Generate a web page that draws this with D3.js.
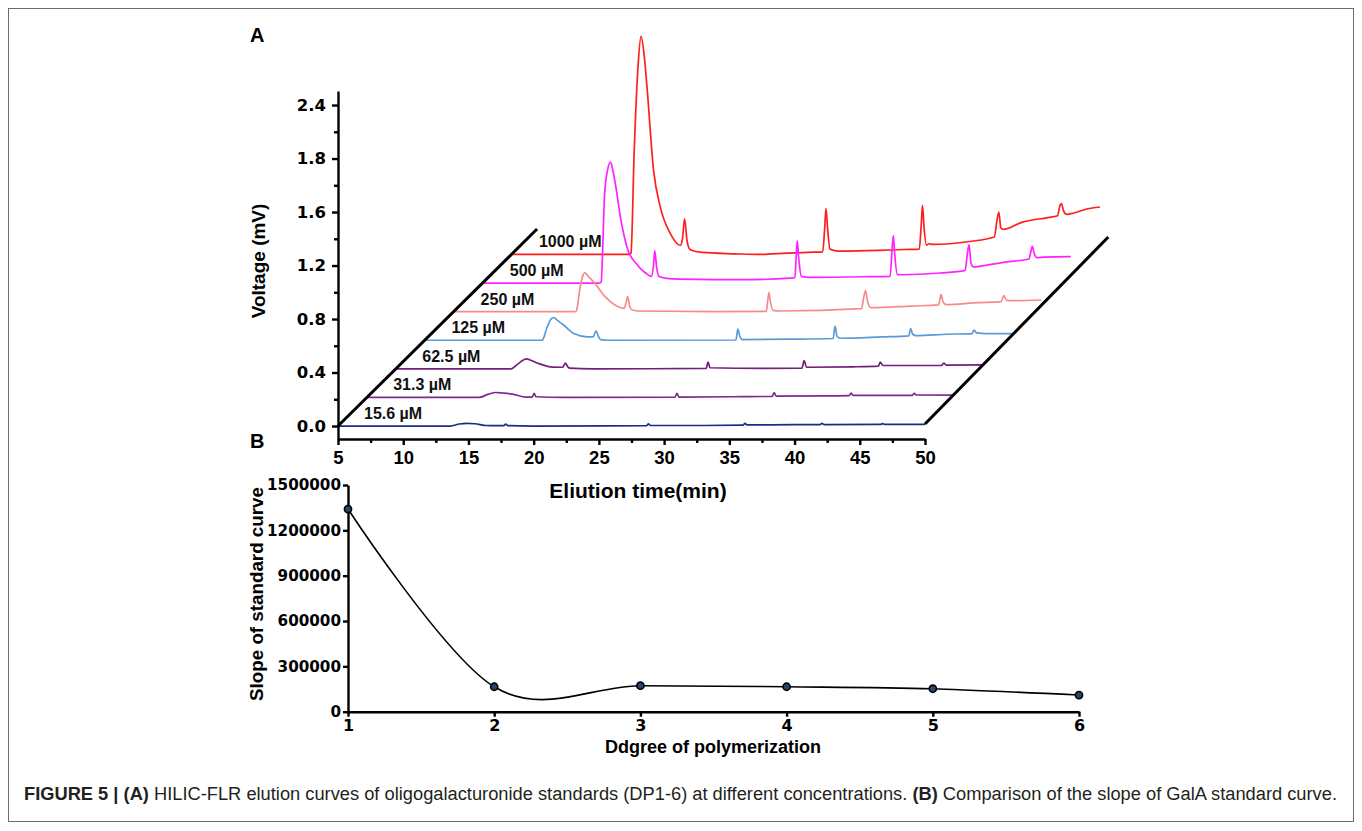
<!DOCTYPE html>
<html>
<head>
<meta charset="utf-8">
<script src="https://cdn.jsdelivr.net/npm/d3@7/dist/d3.min.js"></script>
<style>
  body { margin: 0; background: #fff; }
</style>
</head>
<body>
<div id="chart"></div>
<script>
// ---- data ----
// panel A: HILIC-FLR elution curves, [time (min), signal above the trace's own baseline (mV)]
var concLabels = ["15.6 µM", "31.3 µM", "62.5 µM", "125 µM", "250 µM", "500 µM", "1000 µM"];

var trace156 = [[5,0],[13.6,0],[14.3,0.015],[14.87,0.02],[15.5,0.017],[16.4,0.004],[17.7,0.003],[17.86,0.015],[18.0,0.003],[20,0],
  [28.65,0.002],[28.8,0.016],[28.95,0.004],[33,0.004],[36.05,0.006],[36.2,0.02],[36.35,0.008],[40,0.01],[41.95,0.01],[42.1,0.02],
  [42.25,0.011],[46.6,0.012],[46.75,0.018],[46.9,0.013],[50,0.013]];
var trace313 = [[5,0],[13.6,0],[14.3,0.025],[14.87,0.037],[15.4,0.033],[16.14,0.025],[17.17,0.003],[17.65,0.003],[17.8,0.03],[17.95,0.005],
  [20,0],[28.6,0.002],[28.75,0.03],[28.9,0.003],[33,0.005],[36.05,0.008],[36.2,0.037],[36.35,0.01],[40,0.012],[41.95,0.014],
  [42.1,0.032],[42.25,0.016],[46.8,0.016],[46.95,0.03],[47.1,0.018],[50,0.017]];
var trace625 = [[5,0],[13.8,0],[14.3,0.035],[14.97,0.075],[15.4,0.06],[15.99,0.037],[17.0,0.013],[17.75,0.012],[17.96,0.043],[18.15,0.015],
  [18.3,0.005],[20,0],[28.75,0.003],[28.9,0.05],[29.05,0.008],[33,0.004],[36.1,0.006],[36.26,0.062],[36.45,0.012],[40,0.015],
  [41.95,0.02],[42.1,0.05],[42.3,0.025],[46.8,0.025],[46.97,0.043],[47.15,0.028],[50,0.03]];
var trace125 = [[5,0],[13.9,0],[14.0,0.005],[14.3,0.09],[14.6,0.155],[14.84,0.17],[15.1,0.15],[15.61,0.112],[16.38,0.05],[17.4,0.025],
  [17.85,0.025],[18.0,0.055],[18.09,0.07],[18.25,0.03],[18.42,0.005],[19,0],[28.8,0.002],[28.95,0.083],[29.1,0.03],[29.3,0.005],
  [33,0.008],[36.25,0.013],[36.4,0.105],[36.55,0.03],[36.8,0.015],[40,0.025],[42.05,0.033],[42.2,0.088],[42.35,0.045],[42.6,0.035],
  [45,0.045],[46.9,0.05],[47.05,0.075],[47.25,0.055],[48,0.05],[50,0.05]];
var trace250 = [[5,0],[14.25,0],[14.35,0.01],[14.6,0.17],[14.8,0.26],[14.99,0.29],[15.2,0.27],[15.76,0.21],[16.53,0.112],[17.29,0.05],
  [18.0,0.025],[18.15,0.07],[18.27,0.112],[18.4,0.05],[18.55,0.017],[19,0.005],[25,0],[28.9,0.002],[29.0,0.08],[29.1,0.142],
  [29.2,0.08],[29.4,0.01],[30,0.005],[36.2,0.022],[36.35,0.1],[36.5,0.157],[36.65,0.08],[36.9,0.03],[40,0.042],[42.1,0.05],
  [42.2,0.09],[42.3,0.129],[42.45,0.07],[42.7,0.052],[45,0.067],[46.9,0.075],[47.1,0.12],[47.3,0.085],[48,0.082],[50,0.087]];
var trace500 = [[5,0],[13.9,0],[14.0,0.01],[14.26,0.66],[14.5,0.85],[14.72,0.905],[14.9,0.84],[15.1,0.735],[15.49,0.486],[16.0,0.262],
  [16.76,0.137],[17.4,0.075],[17.85,0.05],[18.0,0.12],[18.11,0.24],[18.25,0.12],[18.42,0.05],[19,0.035],[20,0.03],[25,0.025],
  [28.5,0.037],[28.85,0.04],[28.95,0.2],[29.03,0.316],[29.15,0.18],[29.35,0.05],[30,0.042],[34,0.047],[36.15,0.05],[36.3,0.25],
  [36.4,0.354],[36.5,0.22],[36.7,0.065],[37,0.062],[40,0.075],[41.9,0.095],[42.05,0.2],[42.2,0.287],[42.35,0.15],[42.55,0.12],
  [43,0.125],[45,0.157],[46.8,0.18],[46.95,0.24],[47.05,0.274],[47.2,0.22],[47.4,0.19],[48,0.194],[50,0.197]];
var trace1000 = [[5,0],[13.95,0],[14.05,0.01],[14.3,0.78],[14.6,1.42],[14.82,1.63],[15.05,1.5],[15.28,1.25],[15.78,0.63],[16.3,0.354],
  [17.06,0.157],[17.83,0.067],[18.0,0.12],[18.16,0.267],[18.35,0.1],[18.6,0.035],[19.5,0.015],[22,0.005],[24,0],[26,0.01],
  [28,0.017],[28.75,0.02],[28.9,0.2],[29.0,0.342],[29.12,0.2],[29.3,0.04],[30,0.025],[33,0.03],[35,0.037],[36.15,0.04],
  [36.3,0.22],[36.4,0.367],[36.52,0.2],[36.7,0.07],[36.9,0.08],[37.2,0.075],[40,0.097],[41.9,0.13],[42.1,0.25],[42.25,0.317],
  [42.4,0.2],[42.6,0.187],[44,0.24],[46,0.276],[46.75,0.29],[46.95,0.37],[47.05,0.381],[47.2,0.33],[47.45,0.3],[48,0.31],
  [49,0.34],[50,0.355]];

var traces = [trace156, trace313, trace625, trace125, trace250, trace500, trace1000];
var traceColors = ["#1f2a86", "#7b2c8c", "#72207a", "#5b9bd5", "#f78a8a", "#ff22ff", "#ff1e1e"];

var xTicksA = [5, 10, 15, 20, 25, 30, 35, 40, 45, 50];
var yTickValsA = [0, 0.4, 0.8, 1.2, 1.6, 2.0, 2.4];
var yTickLabelsA = ["0.0", "0.4", "0.8", "1.2", "1.6", "1.8", "2.4"];

// panel B: slope of GalA standard curve per degree of polymerization
var dpValues = [1, 2, 3, 4, 5, 6];
var slopeValues = [1341000, 165000, 172000, 165000, 152000, 110000];
var yTicksB = [0, 300000, 600000, 900000, 1200000, 1500000];

// waterfall step between successive traces (min, mV)
var stepT = 2.235, stepV = 0.2138;

var width = 1362, height = 831;
var arial = "'Liberation Sans', Arial, sans-serif";
var wide = "'DejaVu Sans', Verdana, sans-serif";

var svg = d3.select("#chart").append("svg")
    .attr("width", width)
    .attr("height", height)
    .attr("font-family", arial);

svg.append("rect").attr("x", 0).attr("y", 0).attr("width", width).attr("height", height).attr("fill", "#fff");
// figure frame
svg.append("rect")
    .attr("x", 8.5).attr("y", 8.5).attr("width", 1345).attr("height", 813)
    .attr("fill", "none").attr("stroke", "#6d6d6d").attr("stroke-width", 1);

// ================= panel A =================
var xA = d3.scaleLinear().domain([5, 50]).range([338, 925]);
var yA = d3.scaleLinear().domain([-0.097, 2.505]).range([439, 91]);

var line = d3.line().curve(d3.curveMonotoneX);

// back to front: highest concentration first
for (var i = traces.length - 1; i >= 0; i--) {
  var k = i;
  line.x(function(d) { return xA(d[0] + k * stepT); })
      .y(function(d) { return yA(d[1] + k * stepV); });
  svg.append("path")
      .attr("d", line(traces[i]))
      .attr("fill", "none")
      .attr("stroke", traceColors[i])
      .attr("stroke-width", 1.7)
      .attr("stroke-linejoin", "round");
}

// concentration labels, sitting above each trace's start
concLabels.forEach(function(lab, i) {
  svg.append("text")
      .attr("x", xA(5 + i * stepT) + 26)
      .attr("y", yA(i * stepV) - 7)
      .attr("font-size", 16)
      .attr("font-weight", "bold")
      .attr("fill", "#111")
      .text(lab);
});

// the two diagonals of the waterfall floor
var diag = [[[5, 0], [20.26, 1.473]], [[50, 0.015], [64.05, 1.413]]];
diag.forEach(function(seg) {
  svg.append("line")
      .attr("x1", xA(seg[0][0])).attr("y1", yA(seg[0][1]))
      .attr("x2", xA(seg[1][0])).attr("y2", yA(seg[1][1]))
      .attr("stroke", "#000").attr("stroke-width", 3);
});

function styleAxis(g, size, family) {
  g.attr("font-family", null).attr("font-size", null);
  g.selectAll("path, line").attr("stroke", "#000").attr("stroke-width", 2.4);
  g.selectAll("text")
      .attr("font-size", size)
      .attr("font-weight", "bold")
      .attr("fill", "#000")
      .attr("font-family", family);
}

// y axis A
var gyA = svg.append("g").attr("transform", "translate(338,0)");
gyA.call(d3.axisLeft(yA).tickValues(yTickValsA)
    .tickFormat(function(d, i) { return yTickLabelsA[i]; })
    .tickSize(6).tickSizeOuter(0).tickPadding(6));
styleAxis(gyA, 16.5, wide);
var gyAm = svg.append("g").attr("transform", "translate(338,0)");
gyAm.call(d3.axisLeft(yA).tickValues(d3.range(0.2, 2.4, 0.4)).tickFormat("").tickSize(4).tickSizeOuter(0));
gyAm.select(".domain").remove();
styleAxis(gyAm, 16, wide);

// x axis A
var gxA = svg.append("g").attr("transform", "translate(0,439)");
gxA.call(d3.axisBottom(xA).tickValues(xTicksA).tickSize(6).tickSizeOuter(0).tickPadding(6));
styleAxis(gxA, 18.5, arial);
var gxAm = svg.append("g").attr("transform", "translate(0,439)");
gxAm.call(d3.axisBottom(xA).tickValues(d3.range(7.5, 50, 5)).tickFormat("").tickSize(4).tickSizeOuter(0));
gxAm.select(".domain").remove();
styleAxis(gxAm, 18, arial);

svg.append("text")
    .attr("x", 638).attr("y", 498)
    .attr("text-anchor", "middle")
    .attr("font-size", 21).attr("font-weight", "bold")
    .text("Eliution time(min)");

svg.append("text")
    .attr("transform", "translate(265,261) rotate(-90)")
    .attr("text-anchor", "middle")
    .attr("font-size", 19).attr("font-weight", "bold")
    .text("Voltage (mV)");

svg.append("text").attr("x", 250).attr("y", 42)
    .attr("font-size", 20).attr("font-weight", "bold").text("A");

// ================= panel B =================
var xB = d3.scaleLinear().domain([1, 6]).range([348, 1079]);
var yB = d3.scaleLinear().domain([0, 1500000]).range([711.7, 485]);

svg.append("text").attr("x", 250).attr("y", 448)
    .attr("font-size", 20).attr("font-weight", "bold").text("B");

var gyB = svg.append("g").attr("transform", "translate(348,0)");
gyB.call(d3.axisLeft(yB).tickValues(yTicksB).tickFormat(d3.format("d"))
    .tickSize(5).tickSizeOuter(0).tickPadding(2));
styleAxis(gyB, 15.2, wide);

var gxB = svg.append("g").attr("transform", "translate(0,711.7)");
gxB.call(d3.axisBottom(xB).tickValues(dpValues).tickFormat(d3.format("d"))
    .tickSize(5).tickSizeOuter(0).tickPadding(3));
styleAxis(gxB, 16, wide);

var slopeLine = d3.line()
    .x(function(d, i) { return xB(dpValues[i]); })
    .y(function(d) { return yB(d); })
    .curve(d3.curveCardinal.tension(0));

svg.append("path")
    .attr("d", slopeLine(slopeValues))
    .attr("fill", "none")
    .attr("stroke", "#000")
    .attr("stroke-width", 1.6);

svg.selectAll(".dp")
    .data(slopeValues)
    .enter()
  .append("circle")
    .attr("class", "dp")
    .attr("cx", function(d, i) { return xB(dpValues[i]); })
    .attr("cy", function(d) { return yB(d); })
    .attr("r", 3.6)
    .attr("fill", "#27466e")
    .attr("stroke", "#000")
    .attr("stroke-width", 1.6);

svg.append("text")
    .attr("x", 713).attr("y", 753)
    .attr("text-anchor", "middle")
    .attr("font-size", 18).attr("font-weight", "bold")
    .text("Ddgree of polymerization");

svg.append("text")
    .attr("transform", "translate(263,594) rotate(-90)")
    .attr("text-anchor", "middle")
    .attr("font-size", 18.8).attr("font-weight", "bold")
    .text("Slope of standard curve");

// ================= caption =================
var cap = svg.append("text")
    .attr("x", 24).attr("y", 800)
    .attr("font-size", 18)
    .attr("fill", "#231f20")
    .attr("textLength", 1313)
    .attr("lengthAdjust", "spacingAndGlyphs")
    .attr("font-family", "'Liberation Sans Narrow', 'Arial Narrow', 'Liberation Sans', Arial, sans-serif");
cap.append("tspan").attr("font-weight", "bold").text("FIGURE 5 | (A)");
cap.append("tspan").text(" HILIC-FLR elution curves of oligogalacturonide standards (DP1-6) at different concentrations. ");
cap.append("tspan").attr("font-weight", "bold").text("(B)");
cap.append("tspan").text(" Comparison of the slope of GalA standard curve.");
</script>
</body>
</html>
